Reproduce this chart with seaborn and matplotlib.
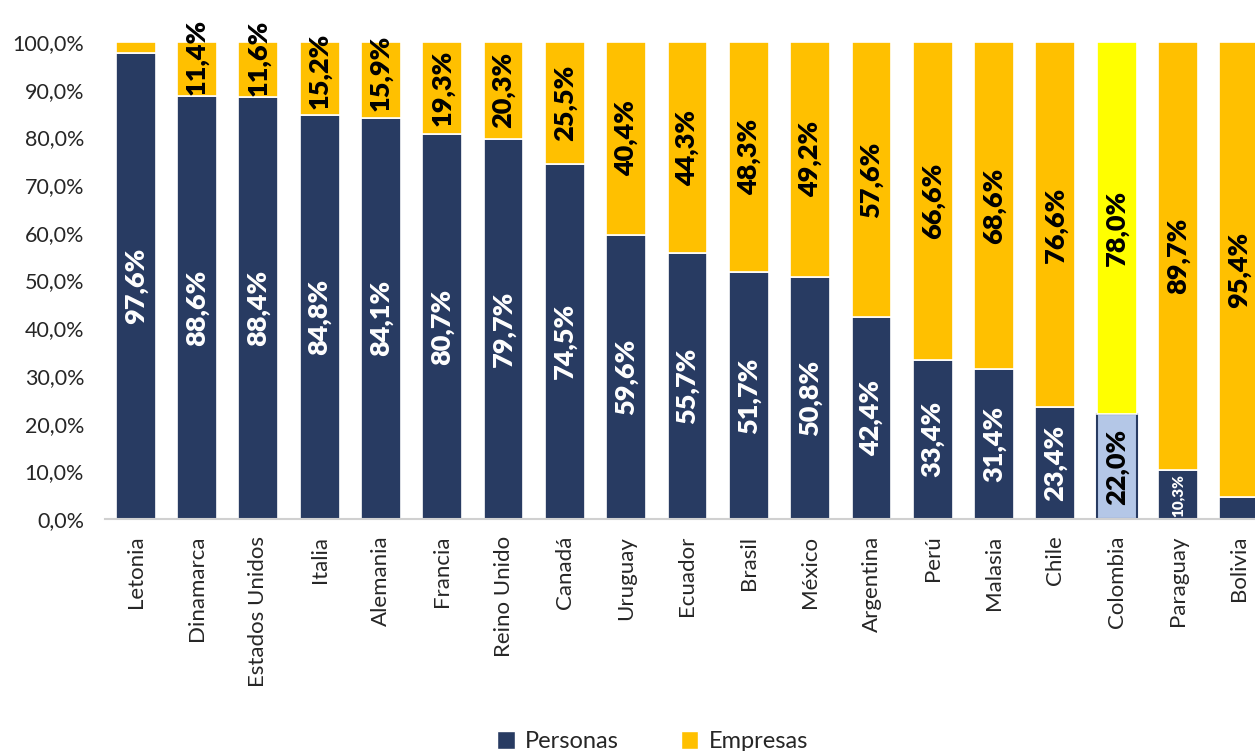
import matplotlib
matplotlib.use("Agg")
import matplotlib.pyplot as plt
import seaborn as sns
import pandas as pd
from matplotlib.patches import Patch

paises = ["Letonia", "Dinamarca", "Estados Unidos", "Italia", "Alemania", "Francia",
          "Reino Unido", "Canadá", "Uruguay", "Ecuador", "Brasil", "México",
          "Argentina", "Perú", "Malasia", "Chile", "Colombia", "Paraguay", "Bolivia"]
personas = [97.6, 88.6, 88.4, 84.8, 84.1, 80.7, 79.7, 74.5, 59.6, 55.7, 51.7, 50.8,
            42.4, 33.4, 31.4, 23.4, 22.0, 10.3, 4.6]
empresas = [2.4, 11.4, 11.6, 15.2, 15.9, 19.3, 20.3, 25.5, 40.4, 44.3, 48.3, 49.2,
            57.6, 66.6, 68.6, 76.6, 78.0, 89.7, 95.4]
series = ["Personas", "Empresas"]
yticks = [0, 10, 20, 30, 40, 50, 60, 70, 80, 90, 100]

NAVY = "#283B62"
GOLD = "#FFC000"
LIGHT = "#B4C7E7"
YELLOW = "#FFFF00"
highlight = "Colombia"

sns.set_theme(style="white")
plt.rcParams["font.family"] = ["Lato", "DejaVu Sans"]

df = pd.DataFrame({"pais": paises, "personas": personas, "empresas": empresas})

fig = plt.figure(figsize=(12.55, 7.51), dpi=100)
ax = fig.add_axes([105 / 1255, (751 - 519) / 751, 1165 / 1255, 477 / 751])

sns.barplot(data=df, x="pais", y="personas", color=NAVY, width=0.65, saturation=1,
            edgecolor="white", linewidth=1.2, ax=ax)
n = len(paises)
sns.barplot(data=df, x="pais", y="empresas", color=GOLD, width=0.65, saturation=1,
            bottom=df["personas"].values, edgecolor="white", linewidth=1.2, ax=ax)

hi = paises.index(highlight)
ax.patches[hi].set_facecolor(LIGHT)
ax.patches[hi].set_edgecolor(NAVY)
ax.patches[hi].set_linewidth(1.5)
ax.patches[n + hi].set_facecolor(YELLOW)

for i, (p, e) in enumerate(zip(personas, empresas)):
    if p >= 8:
        col = "black" if i == hi else "white"
        small = p < 15
        ax.text(i, p / 2 - (0.3 if small else 0), f"{p:.1f}%".replace(".", ","),
                rotation=90, ha="center", va="center", color=col,
                fontsize=11 if small else 19.5, fontweight="heavy")
    if e >= 8:
        ax.text(i, p + e / 2 + (2.5 if e < 14 else (1.5 if e < 16 else 0)),
                f"{e:.1f}%".replace(".", ","),
                rotation=90, ha="center", va="center", color="black",
                fontsize=19.5, fontweight="heavy")

ax.set_xlim(-0.5, n - 0.5)
ax.set_ylim(0, 100)
ax.set_yticks(yticks)
ax.set_yticklabels([f"{t:.1f}%".replace(".", ",") for t in yticks], fontsize=15.5)
ax.tick_params(axis="y", length=0, pad=15)
ax.tick_params(axis="x", length=0, pad=12)
ax.set_xticks(range(n))
ax.set_xticklabels(paises, rotation=90, fontsize=16)
ax.set_xlabel("")
ax.set_ylabel("")
for s in ["top", "right", "left"]:
    ax.spines[s].set_visible(False)
ax.spines["bottom"].set_color("#D0D0D0")
ax.spines["bottom"].set_linewidth(1.5)

handles = [Patch(facecolor=NAVY, label=series[0]), Patch(facecolor=GOLD, label=series[1])]
fig.legend(handles=handles, loc="lower center", bbox_to_anchor=(0.52, -0.03), ncol=2,
           frameon=False, fontsize=17, handlelength=0.75, handleheight=0.75,
           columnspacing=2.6, handletextpad=0.45)

fig.savefig("out.png", dpi=100)
